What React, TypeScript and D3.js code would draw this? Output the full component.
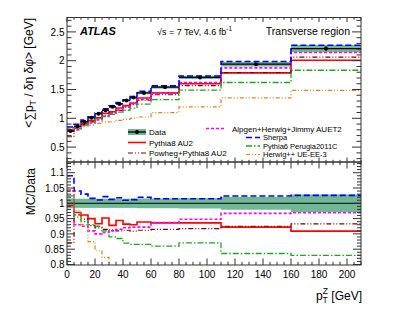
import * as d3 from 'd3';

// pT^Z bin edges [GeV]
const binEdges = [0, 5, 10, 15, 20, 25, 30, 35, 40, 45, 50, 60, 80, 110, 160, 210];

// Data: <sum pT / d eta d phi> [GeV] per bin
const dataValues = [0.78, 0.86, 0.94, 1.01, 1.08, 1.14, 1.2, 1.25, 1.31, 1.36, 1.44, 1.54, 1.71, 1.94, 2.21];
const dataErrors = [0.008, 0.008, 0.008, 0.008, 0.009, 0.009, 0.01, 0.01, 0.01, 0.011, 0.012, 0.012, 0.015, 0.02, 0.035];
// relative total uncertainty (green band)
const bandErrors = [0.016, 0.015, 0.015, 0.015, 0.015, 0.015, 0.015, 0.015, 0.015, 0.015, 0.016, 0.016, 0.017, 0.021, 0.029];

// MC / Data ratios
const pythia8Ratio = [0.993, 0.97, 0.962, 0.95, 0.933, 0.952, 0.928, 0.944, 0.932, 0.93, 0.939, 0.936, 0.936, 0.922, 0.909];
const powhegRatio = [0.871, 0.962, 0.948, 0.927, 0.92, 0.915, 0.913, 0.91, 0.912, 0.909, 0.912, 0.915, 0.917, 0.925, 0.933];
const alpgenRatio = [1.04, 0.93, 0.925, 0.91, 0.9, 0.905, 0.91, 0.915, 0.92, 0.922, 0.922, 0.937, 0.948, 0.967, 0.969];
const sherpaRatio = [1.09, 1.04, 1.03, 1.016, 1.011, 1.022, 1.013, 1.018, 1.01, 1.012, 1.02, 1.015, 1.015, 1.024, 1.026];
const pythia6Ratio = [1.024, 0.955, 0.94, 0.93, 0.925, 0.91, 0.89, 0.885, 0.87, 0.866, 0.866, 0.86, 0.871, 0.836, 0.83];
const herwigRatio = [1.045, 0.975, 0.93, 0.875, 0.845, 0.823, 0.78, 0.77, 0.75, 0.735, 0.71, 0.714, 0.7, 0.698, 0.672];

const modelNames = [
  'Pythia8 AU2',
  'Powheg+Pythia8 AU2',
  'Alpgen+Herwig+Jimmy AUET2',
  'Sherpa',
  'Pythia6 Perugia2011C',
  'Herwig++ UE-EE-3',
];

const xTicks = [0, 20, 40, 60, 80, 100, 120, 140, 160, 180, 200];
const topTicks = [0.5, 1, 1.5, 2, 2.5];
const ratioTicks = [0.8, 0.85, 0.9, 0.95, 1, 1.05, 1.1];

const STYLES = [
  { color: '#ff0000', dash: '', width: 1.6 },
  { color: '#7a0000', dash: '5,2,1,2,1,2', width: 1.2 },
  { color: '#ff00ff', dash: '3,2', width: 1.6 },
  { color: '#0000ff', dash: '6,3', width: 1.6 },
  { color: '#1fa51f', dash: '6,2,1.5,2', width: 1.3 },
  { color: '#e0801f', dash: '4,2,1,2,1,2', width: 1.2 },
];
const modelRatios = [pythia8Ratio, powhegRatio, alpgenRatio, sherpaRatio, pythia6Ratio, herwigRatio];

const BAND = '#6fb893';
const FONT = '"Liberation Sans", Arial, Helvetica, sans-serif';

const LEFT = 67;
const RIGHT = 361;
const TOP_Y0 = 17.5;
const TOP_Y1 = 162;
const RAT_Y1 = 265;

export default function App() {
  const x = d3.scaleLinear().domain([0, 210]).range([LEFT, RIGHT]);
  const yTop = d3.scaleLinear().domain([0.25, 2.75]).range([161.5, 17.5]);
  const yRat = d3.scaleLinear().domain([0.8, 1.135]).range([264.5, 162]);

  const stepPath = (vals: number[], y: d3.ScaleLinear<number, number>) => {
    const pts: [number, number][] = binEdges.map((e, i) => [x(e), y(vals[Math.min(i, vals.length - 1)])]);
    return d3.line().curve(d3.curveStepAfter)(pts) || '';
  };

  const bins = dataValues.map((v, i) => ({ x0: binEdges[i], x1: binEdges[i + 1], v, err: dataErrors[i], band: bandErrors[i] }));

  // ticks
  const xMinor = d3.range(0, 211, 5);
  const topMinor = d3.range(0.3, 2.75, 0.1);
  const ratMinor = d3.range(0.8, 1.135, 0.01);

  const frameTicks = (
    yScale: d3.ScaleLinear<number, number>,
    major: number[],
    minor: number[],
    yMajLen: number,
    yMinLen: number,
    y0: number,
    y1: number,
    xMajLen: number,
    xMinLen: number,
    key: string,
  ) => {
    const out: JSX.Element[] = [];
    minor.forEach((t, i) => {
      const yy = yScale(t);
      if (yy < y0 - 0.5 || yy > y1 + 0.5) return;
      const isMaj = major.some((m) => Math.abs(m - t) < 1e-6);
      const len = isMaj ? yMajLen : yMinLen;
      out.push(<line key={`${key}yl${i}`} x1={LEFT} x2={LEFT + len} y1={yy} y2={yy} />);
      out.push(<line key={`${key}yr${i}`} x1={RIGHT} x2={RIGHT - len} y1={yy} y2={yy} />);
    });
    xMinor.forEach((t, i) => {
      const xx = x(t);
      const isMaj = t % 20 === 0;
      const len = isMaj ? xMajLen : xMinLen;
      out.push(<line key={`${key}xb${i}`} x1={xx} x2={xx} y1={y1} y2={y1 - len} />);
      out.push(<line key={`${key}xt${i}`} x1={xx} x2={xx} y1={y0} y2={y0 + len} />);
    });
    return out;
  };

  return (
    <svg
      width={407}
      height={315}
      style={{ position: 'absolute', left: 0, top: 0, background: '#fff' }}
      fontFamily={FONT}
    >
      <defs>
        <clipPath id="clipTop">
          <rect x={LEFT} y={TOP_Y0} width={RIGHT - LEFT} height={TOP_Y1 - TOP_Y0} />
        </clipPath>
        <clipPath id="clipRat">
          <rect x={LEFT} y={TOP_Y1} width={RIGHT - LEFT} height={RAT_Y1 - TOP_Y1} />
        </clipPath>
      </defs>

      {/* ---------- top panel ---------- */}
      <g clipPath="url(#clipTop)">
        {bins.map((b, i) => (
          <rect
            key={`tb${i}`}
            x={x(b.x0)}
            width={x(b.x1) - x(b.x0)}
            y={yTop(b.v * (1 + b.band))}
            height={yTop(b.v * (1 - b.band)) - yTop(b.v * (1 + b.band))}
            fill={BAND}
          />
        ))}
        {modelRatios.map((r, k) => (
          <path
            key={`tm${k}`}
            d={stepPath(r.map((v, i) => v * dataValues[i]), yTop)}
            fill="none"
            stroke={STYLES[k].color}
            strokeWidth={STYLES[k].width}
            strokeDasharray={STYLES[k].dash}
          />
        ))}
        {bins.map((b, i) => (
          <g key={`td${i}`} stroke="#000" strokeWidth={1.3}>
            <line x1={x(b.x0)} x2={x(b.x1)} y1={yTop(b.v)} y2={yTop(b.v)} />
            <line
              x1={x((b.x0 + b.x1) / 2)}
              x2={x((b.x0 + b.x1) / 2)}
              y1={yTop(b.v - b.err)}
              y2={yTop(b.v + b.err)}
            />
            <circle cx={x((b.x0 + b.x1) / 2)} cy={yTop(b.v)} r={2} fill="#000" stroke="none" />
          </g>
        ))}
      </g>

      {/* ---------- ratio panel ---------- */}
      <g clipPath="url(#clipRat)">
        {bins.map((b, i) => (
          <rect
            key={`rb${i}`}
            x={x(b.x0)}
            width={x(b.x1) - x(b.x0)}
            y={yRat(1 + b.band)}
            height={yRat(1 - b.band) - yRat(1 + b.band)}
            fill={BAND}
          />
        ))}
        <line x1={x(0)} x2={x(210)} y1={yRat(1)} y2={yRat(1)} stroke="#000" strokeWidth={1} />
        {modelRatios.map((r, k) => (
          <path
            key={`rm${k}`}
            d={stepPath(r, yRat)}
            fill="none"
            stroke={STYLES[k].color}
            strokeWidth={STYLES[k].width}
            strokeDasharray={STYLES[k].dash}
          />
        ))}
      </g>

      {/* ---------- frames and ticks ---------- */}
      <g stroke="#333" strokeWidth={1} fill="none">
        <rect x={LEFT} y={TOP_Y0} width={RIGHT - LEFT} height={TOP_Y1 - TOP_Y0} />
        <rect x={LEFT} y={TOP_Y1} width={RIGHT - LEFT} height={RAT_Y1 - TOP_Y1} />
        {frameTicks(yTop, topTicks, topMinor, 9, 4.5, TOP_Y0, TOP_Y1, 4.5, 2.2, 't')}
        {frameTicks(yRat, ratioTicks, ratMinor, 8, 4, TOP_Y1, RAT_Y1, 6.5, 3.2, 'r')}
      </g>

      {/* tick labels */}
      <g fontSize={10} fill="#000" textAnchor="end">
        {topTicks.map((t) => (
          <text key={`tl${t}`} x={LEFT - 2.5} y={yTop(t) + 3.6}>
            {d3.format('~g')(t)}
          </text>
        ))}
        {ratioTicks.map((t) => (
          <text key={`rl${t}`} x={LEFT - 2.5} y={yRat(t) + 3.6}>
            {d3.format('~g')(t)}
          </text>
        ))}
      </g>
      <g fontSize={10} fill="#000" textAnchor="middle">
        {xTicks.map((t) => (
          <text key={`xl${t}`} x={x(t)} y={277.5}>
            {t}
          </text>
        ))}
      </g>

      {/* axis titles */}
      <text fontSize={12} textAnchor="end" transform={`translate(33,${TOP_Y0 + 0.5}) rotate(-90)`}>
        {'<∑p'}
        <tspan fontSize={8.5} dy={3}>T</tspan>
        <tspan dy={-3}>{' / δη δφ> [GeV]'}</tspan>
      </text>
      <text fontSize={12} textAnchor="end" transform={`translate(35,168) rotate(-90)`}>
        MC/Data
      </text>
      <text fontSize={12} textAnchor="end" x={362} y={300}>
        p
        <tspan fontSize={8.5} dy={3}>T</tspan>
        <tspan fontSize={8.5} dx={-5} dy={-9}>Z</tspan>
        <tspan dy={6}>{' [GeV]'}</tspan>
      </text>

      {/* labels */}
      <text x={80} y={35} fontSize={11} fontWeight="bold" fontStyle="italic">
        ATLAS
      </text>
      <text x={157} y={35} fontSize={9}>
        {'√s = 7 TeV, 4.6 fb'}
        <tspan fontSize={6.5} dy={-4}>-1</tspan>
      </text>
      <text x={350} y={35} fontSize={10.5} textAnchor="end">
        Transverse region
      </text>

      {/* legend left */}
      <g fontSize={8}>
        <rect x={128} y={129} width={18} height={6} fill={BAND} />
        <line x1={128} x2={146} y1={132} y2={132} stroke="#000" strokeWidth={1.3} />
        <circle cx={137} cy={132} r={2} fill="#000" />
        <text x={149} y={135}>Data</text>
        {[0, 1].map((k, j) => (
          <g key={`ll${k}`}>
            <line
              x1={128}
              x2={146}
              y1={142.5 + j * 10.5}
              y2={142.5 + j * 10.5}
              stroke={STYLES[k].color}
              strokeWidth={STYLES[k].width}
              strokeDasharray={STYLES[k].dash}
            />
            <text x={149} y={145.5 + j * 10.5}>{modelNames[k]}</text>
          </g>
        ))}
        <line
          x1={206}
          x2={226}
          y1={128.5}
          y2={128.5}
          stroke={STYLES[2].color}
          strokeWidth={STYLES[2].width}
          strokeDasharray={STYLES[2].dash}
        />
        <text x={232} y={131.5}>{modelNames[2]}</text>
        {[3, 4, 5].map((k, j) => (
          <g key={`lr${k}`}>
            <line
              x1={246}
              x2={260}
              y1={137.5 + j * 8.5}
              y2={137.5 + j * 8.5}
              stroke={STYLES[k].color}
              strokeWidth={STYLES[k].width}
              strokeDasharray={STYLES[k].dash}
            />
            <text x={263} y={140.3 + j * 8.5} fontSize={7.5}>
              {modelNames[k]}
            </text>
          </g>
        ))}
      </g>
    </svg>
  );
}
